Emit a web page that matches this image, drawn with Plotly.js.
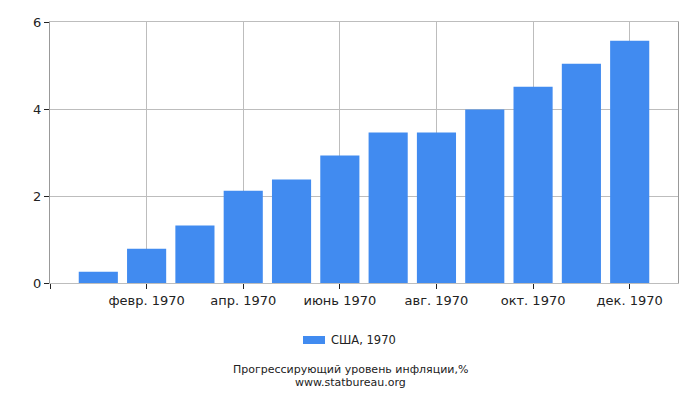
<!DOCTYPE html>
<html>
<head>
<meta charset="utf-8">
<script src="https://cdn.plot.ly/plotly-3.0.1.min.js"></script>
<style>body{margin:0;background:#fff}#chart{width:700px;height:400px}</style>
</head>
<body>
<div id="chart"></div>
<script>
// months of 1970
const months = ['янв. 1970', 'февр. 1970', 'март 1970', 'апр. 1970', 'май 1970', 'июнь 1970',
  'июль 1970', 'авг. 1970', 'сент. 1970', 'окт. 1970', 'нояб. 1970', 'дек. 1970'];
// cumulative inflation, %
const inflation = [0.26, 0.79, 1.32, 2.12, 2.38, 2.93, 3.46, 3.46, 3.99, 4.51, 5.04, 5.57];
const tickMonths = [-1, 1, 3, 5, 7, 9, 11];
const tickLabels = ['', 'февр. 1970', 'апр. 1970', 'июнь 1970', 'авг. 1970', 'окт. 1970', 'дек. 1970'];
const yTicks = [0, 2, 4, 6];
const seriesName = 'США, 1970';

const font = 'DejaVu Sans, sans-serif';
const barColor = '#418bf0';

var bars = {
  x: months,
  y: inflation,
  type: 'bar',
  name: seriesName,
  marker: {color: barColor},
  showlegend: false
};

// plot area is 50..678 px wide, 22..283 px tall
const px = (p) => (p - 50) / 628;
const py = (p) => (283 - p) / 261;

var layout = {
  width: 700,
  height: 400,
  margin: {l: 50, r: 22, t: 22, b: 117},
  paper_bgcolor: '#fff',
  plot_bgcolor: '#fff',
  font: {family: font, size: 13, color: '#222'},
  bargap: 0.19,
  xaxis: {
    type: 'category',
    range: [-1, 12],
    tickmode: 'array',
    tickvals: tickMonths,
    ticktext: tickLabels,
    ticks: 'outside',
    ticklen: 5,
    tickcolor: '#222',
    showgrid: true,
    gridcolor: '#bdbdbd',
    showline: true,
    linecolor: '#bdbdbd',
    mirror: true,
    zeroline: false,
    tickfont: {size: 13}
  },
  yaxis: {
    range: [0, 6],
    tickmode: 'array',
    tickvals: yTicks,
    ticks: 'outside',
    ticklen: 5,
    tickcolor: '#222',
    showgrid: true,
    gridcolor: '#bdbdbd',
    showline: true,
    linecolor: '#999',
    mirror: true,
    zeroline: false,
    tickfont: {size: 13}
  },
  showlegend: false,
  // legend swatch, drawn by hand to get the wide rectangle
  shapes: [
    {
      type: 'rect', xref: 'paper', yref: 'paper',
      x0: px(303), x1: px(325), y0: py(344), y1: py(336),
      fillcolor: barColor, line: {width: 0}
    }
  ],
  annotations: [
    {
      text: seriesName,
      xref: 'paper', yref: 'paper',
      x: px(329), y: py(340),
      xanchor: 'left', yanchor: 'middle',
      showarrow: false,
      font: {size: 11.5, color: '#222'}
    },
    {
      text: 'Прогрессирующий уровень инфляции,%',
      xref: 'paper', yref: 'paper',
      x: px(350), y: py(369.5),
      xanchor: 'center', yanchor: 'middle',
      showarrow: false,
      font: {size: 11, color: '#222'}
    },
    {
      text: 'www.statbureau.org',
      xref: 'paper', yref: 'paper',
      x: px(350), y: py(382.5),
      xanchor: 'center', yanchor: 'middle',
      showarrow: false,
      font: {size: 11, color: '#222'}
    }
  ]
};

Plotly.newPlot('chart', [bars], layout, {displayModeBar: false, staticPlot: true});
</script>
</body>
</html>
